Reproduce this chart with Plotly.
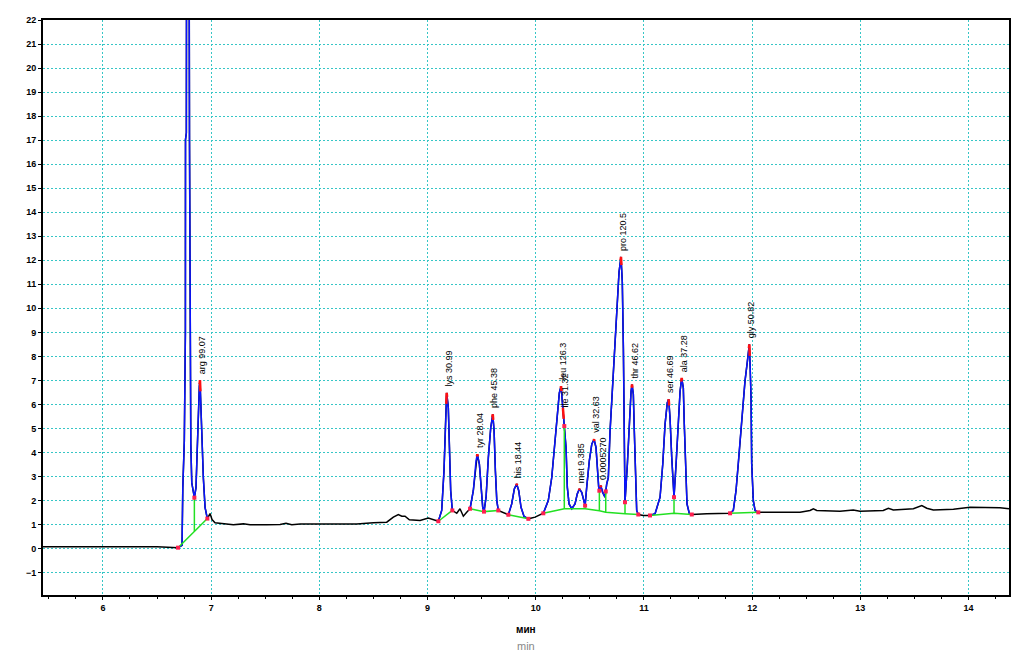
import numpy as np
import plotly.graph_objects as go

# ---- chromatogram signal (time in min, detector response) ----
time = [5.446, 6.50, 6.694, 6.731, 6.738, 6.752, 6.762, 6.763, 6.771, 6.782, 6.800, 6.805, 6.807,
        6.812, 6.821, 6.845, 6.860, 6.872, 6.885, 6.891, 6.897, 6.907, 6.913, 6.928, 6.944, 6.965,
        6.990, 7.008, 7.036, 7.113, 7.205, 7.298, 7.360, 7.514, 7.637, 7.692, 7.745, 7.822, 8.129,
        8.346, 8.499, 8.623, 8.684, 8.730, 8.762, 8.792, 8.832, 8.931, 9.007, 9.054, 9.100, 9.131,
        9.152, 9.168, 9.177, 9.192, 9.201, 9.214, 9.229, 9.270, 9.300, 9.331, 9.362, 9.393, 9.423,
        9.448, 9.460, 9.479, 9.494, 9.510, 9.522, 9.541, 9.562, 9.584, 9.603, 9.615, 9.627, 9.640,
        9.654, 9.701, 9.747, 9.778, 9.802, 9.824, 9.843, 9.864, 9.892, 9.932, 9.994, 10.070, 10.116,
        10.148, 10.178, 10.200, 10.218, 10.234, 10.246, 10.255, 10.264, 10.280, 10.292, 10.308,
        10.333, 10.363, 10.384, 10.403, 10.425, 10.440, 10.456, 10.471, 10.495, 10.518, 10.539,
        10.557, 10.569, 10.582, 10.588, 10.601, 10.619, 10.640, 10.656, 10.671, 10.687, 10.717,
        10.749, 10.770, 10.788, 10.800, 10.810, 10.816, 10.823, 10.825, 10.847, 10.865, 10.881,
        10.890, 10.902, 10.911, 10.921, 10.933, 10.948, 10.994, 11.056, 11.103, 11.149, 11.174,
        11.195, 11.216, 11.229, 11.241, 11.257, 11.272, 11.278, 11.297, 11.318, 11.334, 11.349,
        11.364, 11.373, 11.386, 11.398, 11.420, 11.442, 11.580, 11.703, 11.796, 11.826, 11.851,
        11.872, 11.895, 11.913, 11.934, 11.956, 11.974, 11.981, 11.990, 11.996, 12.011, 12.027,
        12.057, 12.135, 12.288, 12.443, 12.535, 12.566, 12.597, 12.812, 12.935, 12.997, 13.212,
        13.259, 13.305, 13.490, 13.568, 13.614, 13.675, 13.860, 14.014, 14.291, 14.374]
signal = [0.08, 0.08, 0.04, 0.14, 2.50, 4.48, 8.95, 17.02, 17.30, 60.0, 17.00, 10.27, 7.92,
          4.36, 2.74, 2.12, 2.54, 4.48, 5.85, 6.76, 7.01, 5.85, 4.48, 2.95, 1.71, 1.25,
          1.46, 1.21, 1.08, 1.03, 0.99, 1.03, 0.99, 0.99, 1.00, 1.06, 0.99, 1.02, 1.02,
          1.03, 1.08, 1.10, 1.31, 1.42, 1.35, 1.35, 1.20, 1.17, 1.27, 1.20, 1.14, 1.59,
          3.24, 5.45, 6.48, 5.86, 4.21, 2.41, 1.59, 1.47, 1.66, 1.35, 1.51, 1.66, 2.41,
          3.65, 3.93, 3.52, 2.41, 1.72, 1.54, 2.14, 3.79, 5.03, 5.59, 4.90, 3.24, 2.00,
          1.59, 1.51, 1.41, 1.86, 2.48, 2.69, 2.41, 1.72, 1.34, 1.24, 1.31, 1.47, 2.00,
          2.96, 4.35, 5.59, 6.48, 6.76, 6.14, 5.64, 5.10, 4.21, 2.55, 1.86,
          1.66, 1.86, 2.28, 2.48, 2.34, 2.00, 1.79, 2.55, 3.65, 4.35, 4.55,
          4.21, 3.24, 2.55, 2.41, 2.62, 2.34, 2.14, 2.69, 2.96, 4.90, 7.24,
          9.73, 11.52, 12.14, 11.11, 8.34, 4.90, 2.41, 1.93, 3.52, 5.31, 6.55,
          6.83, 6.42, 4.90, 2.83, 1.59, 1.42, 1.38, 1.38, 1.45, 2.14, 3.52,
          5.17, 6.07, 6.21, 5.45, 3.79, 2.55, 2.14, 3.52, 5.45, 6.55, 7.10,
          6.69, 5.17, 3.24, 1.86, 1.45, 1.42, 1.45, 1.47, 1.47, 1.59, 2.41,
          3.52, 4.90, 6.00, 6.97, 7.79, 8.50, 7.66, 6.27, 3.52, 2.00, 1.59,
          1.51, 1.51, 1.50, 1.51, 1.59, 1.66, 1.59, 1.56, 1.61, 1.56, 1.59,
          1.68, 1.61, 1.66, 1.79, 1.68, 1.61, 1.64, 1.72, 1.70, 1.66]

# ---- identified peaks ----
peak_names = ["arg 99.07", "lys 30.99", "tyr 28.04", "phe 45.38", "his 18.44", "leu 126.3",
              "ile 31.32", "met 9.385", "val 32.63", "0.0005270", "pro 120.5", "thr 46.62",
              "ser 46.69", "ala 37.28", "gly 50.82"]
peak_times = [6.897, 9.177, 9.460, 9.603, 9.824, 10.234, 10.255, 10.403, 10.539, 10.601,
              10.788, 10.890, 11.229, 11.349, 11.974]

# ---- integration: peak groups, baselines and drop lines ----
group_start = [6.694, 9.100, 9.393, 9.747, 10.070, 11.056, 11.796]
group_end = [6.965, 9.229, 9.654, 9.932, 10.948, 11.442, 12.057]
base_t = [[6.694, 6.965], [9.100, 9.229], [9.393, 9.522, 9.654], [9.747, 9.932],
          [10.070, 10.264, 10.333, 10.456, 10.588, 10.647, 10.825, 10.948],
          [11.056, 11.278, 11.442], [11.796, 12.057]]
base_v = [[0.04, 1.25], [1.14, 1.59], [1.66, 1.54, 1.59], [1.41, 1.24],
          [1.47, 1.66, 1.66, 1.66, 1.58, 1.51, 1.45, 1.42],
          [1.38, 1.47, 1.42], [1.47, 1.51]]
drop_times = [6.845, 9.522, 10.264, 10.456, 10.588, 10.647, 10.825, 11.278]

t = np.array(time)
s = np.array(signal)

fig = go.Figure()
# full trace in black
fig.add_trace(go.Scatter(x=t, y=s, mode="lines", line=dict(color="black", width=1.5),
                         hoverinfo="skip", showlegend=False))
# peaks in blue
for a, b in zip(group_start, group_end):
    m = (t >= a) & (t <= b)
    fig.add_trace(go.Scatter(x=t[m], y=s[m], mode="lines", line=dict(color="#0a14ff", width=1.5),
                             hoverinfo="skip", showlegend=False))
# green baselines
for bt, bv in zip(base_t, base_v):
    fig.add_trace(go.Scatter(x=bt, y=bv, mode="lines", line=dict(color="#22e022", width=1.5),
                             hoverinfo="skip", showlegend=False))
# drop lines
dx, dy = [], []
for d in drop_times:
    for bt, bv in zip(base_t, base_v):
        if bt[0] <= d <= bt[-1]:
            lo = float(np.interp(d, bt, bv))
            hi = float(np.interp(d, t, s))
            dx += [d, d, None]
            dy += [lo, hi, None]
fig.add_trace(go.Scatter(x=dx, y=dy, mode="lines", line=dict(color="#22e022", width=1.5),
                         hoverinfo="skip", showlegend=False))
# red highlights at apices
for pt in peak_times:
    xs = np.linspace(pt - 0.004, pt + 0.004, 5)
    ys = np.interp(xs, t, s)
    fig.add_trace(go.Scatter(x=xs, y=ys, mode="lines", line=dict(color="#ff1010", width=2.5),
                             hoverinfo="skip", showlegend=False))
# red ticks at integration events
ev_t = list(group_start) + list(group_end) + drop_times
ev_v = list(np.interp(ev_t, t, s))
fig.add_trace(go.Scatter(x=ev_t, y=ev_v, mode="markers",
                         marker=dict(color="#ff2050", size=4, symbol="square"),
                         hoverinfo="skip", showlegend=False))

# peak labels
apex_v = np.interp(peak_times, t, s)
for name, pt, pv in zip(peak_names, peak_times, apex_v):
    fig.add_annotation(x=pt, y=pv, text=name, textangle=-90, showarrow=False,
                       xanchor="center", yanchor="bottom", yshift=4, xshift=2,
                       font=dict(family="Arial", size=9, color="black"))

# axis titles
fig.add_annotation(x=0.5, y=-35 / 580, xref="paper", yref="paper", text="<b>мин</b>",
                   showarrow=False, yanchor="middle",
                   font=dict(family="Arial", size=10, color="black"))
fig.add_annotation(x=0.5, y=-51 / 580, xref="paper", yref="paper", text="min",
                   showarrow=False, yanchor="middle",
                   font=dict(family="Arial", size=11, color="#888888"))

grid = "#36c6c6"
# the page body adds an 8px offset, so the figure is sized to put the plot area where it belongs
fig.update_layout(
    width=1020, height=654,
    margin=dict(l=35, r=19, t=7, b=67),
    paper_bgcolor="white", plot_bgcolor="white",
    xaxis=dict(range=[5.446, 14.374], dtick=1, tick0=0, showgrid=True, gridcolor=grid,
               griddash="2px,2px", gridwidth=1, zeroline=False, showline=True, linecolor="black",
               linewidth=2, mirror=True, ticks="outside", ticklen=3, tickcolor="black",
               tickfont=dict(family="Arial", size=9, color="black", weight="bold"),
               minor=dict(dtick=0.25, ticks="outside", ticklen=2, tickcolor="black",
                          showgrid=False)),
    yaxis=dict(range=[-1.93, 22], dtick=1, tick0=0, showgrid=True, gridcolor=grid,
               griddash="2px,2px", gridwidth=1, zeroline=False, showline=True, linecolor="black",
               linewidth=2, mirror=True, ticks="outside", ticklen=3, tickcolor="black",
               tickfont=dict(family="Arial", size=9, color="black", weight="bold")),
)

fig.write_html("out.html")
